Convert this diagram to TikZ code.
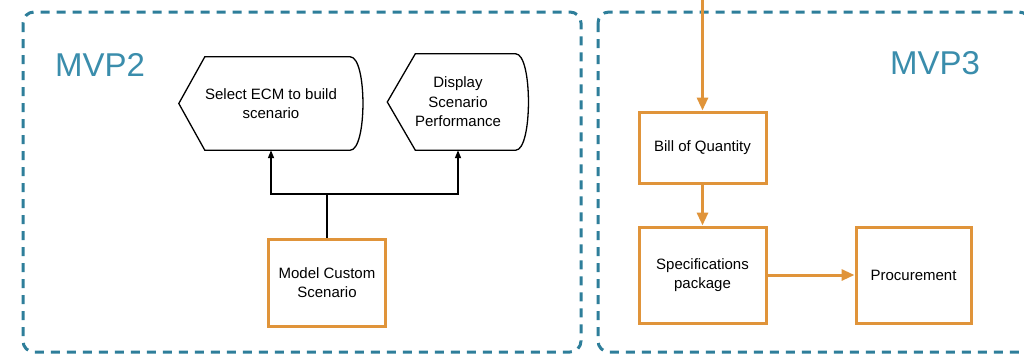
\documentclass[tikz,border=0pt]{standalone}
\usepackage{fontspec}
\setmainfont{Liberation Sans}
\usetikzlibrary{arrows.meta}
\definecolor{frameblue}{HTML}{2E7E9A}
\definecolor{mvpblue}{HTML}{3A8DAC}
\definecolor{boxorange}{HTML}{E0943A}
\begin{document}
\begin{tikzpicture}[x=1pt,y=-1pt,
  frame/.style={draw=frameblue,line width=3pt,dash pattern=on 9pt off 7pt,rounded corners=11pt},
  mvp/.style={text=mvpblue,font=\fontsize{33}{36}\selectfont,inner sep=0pt},
  obox/.style={draw=boxorange,line width=3pt,align=center,inner sep=0pt,font=\fontsize{15}{19.5}\selectfont},
  dispnode/.style={align=center,inner sep=0pt,font=\fontsize{15}{19.5}\selectfont},
  blk/.style={draw=black,line width=1.6pt,-{Triangle[length=8pt,width=6pt]}},
  org/.style={draw=boxorange,line width=3pt,-{Triangle[length=13pt,width=11pt]}}]
\useasboundingbox (0,0) rectangle (1024,357);
\fill[white] (0,0) rectangle (1024,357);
% frames
\draw[frame] (23,12) rectangle (581,352);
\draw[frame] (598,12) rectangle (1030,352);
\node[mvp,anchor=west] (mvp2) at (55,65) {MVP2};
\node[mvp,anchor=west] (mvp3) at (890,63) {MVP3};
% display shapes
\node[dispnode,minimum width=184pt,minimum height=93pt] (sel) at (271,103.5) {Select ECM to build\\scenario};
\node[dispnode,minimum width=141pt,minimum height=96pt] (dsp) at (458,102) {Display\\Scenario\\Performance};
\draw[black,line width=1.3pt] (sel.west) -- ([xshift=26pt]sel.north west) -- ([xshift=-13pt]sel.north east)
  .. controls ([xshift=4pt]sel.north east) and ([xshift=4pt]sel.south east) .. ([xshift=-13pt]sel.south east)
  -- ([xshift=26pt]sel.south west) -- cycle;
\draw[black,line width=1.3pt] (dsp.west) -- ([xshift=28pt]dsp.north west) -- ([xshift=-13pt]dsp.north east)
  .. controls ([xshift=4pt]dsp.north east) and ([xshift=4pt]dsp.south east) .. ([xshift=-13pt]dsp.south east)
  -- ([xshift=28pt]dsp.south west) -- cycle;
% model custom
\node[obox,minimum width=117pt,minimum height=87pt] (mod) at (327,282.5) {Model Custom\\Scenario};
\coordinate (jn) at (327,194);
\draw[blk] (mod.north) -- (jn) -| (sel.south);
\draw[blk] (jn) -| (dsp.south);
% MVP3 flow
\node[obox,minimum width=127pt,minimum height=71pt] (bil) at (702.5,147.5) {Bill of Quantity};
\node[obox,minimum width=127pt,minimum height=96pt] (spc) at (702.5,275) {Specifications\\package};
\node[obox,minimum width=115pt,minimum height=96pt] (pro) at (913.5,275) {Procurement};
\coordinate (top) at (702.5,-2);
\draw[org] (top) -- (bil.north);
\draw[org] (bil.south) -- (spc.north);
\draw[org] (spc.east) -- (pro.west);
\end{tikzpicture}
\end{document}
